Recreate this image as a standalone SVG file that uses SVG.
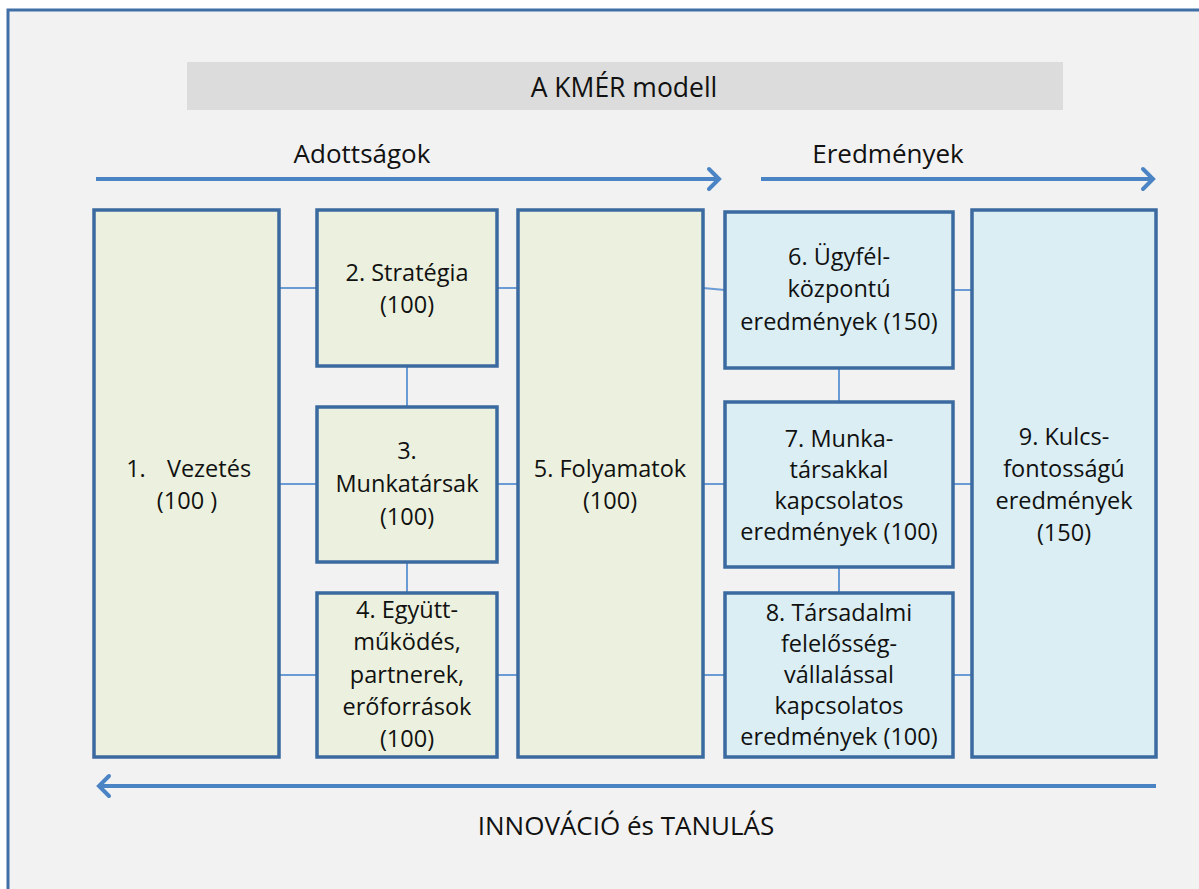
<svg xmlns="http://www.w3.org/2000/svg" width="1199" height="889" viewBox="0 0 1199 889">
<style>
.frame{fill:#f2f2f2;stroke:#3f6fa6;stroke-width:3}
.g{fill:#ebf1de;stroke:#3b6aa0;stroke-width:3.5}
.b{fill:#daeef3;stroke:#3b6aa0;stroke-width:3.5}
.c{stroke:#6a9bd4;stroke-width:2;fill:none}
.arr{stroke:#4a84c4;stroke-width:4;fill:none}
text{font-family:"Open Sans","Liberation Sans",sans-serif;fill:#111111;text-anchor:middle}
.t{font-size:23.5px}
.h{font-size:26px}
</style>
<defs>
<marker id="chev" markerUnits="userSpaceOnUse" markerWidth="20" markerHeight="26" viewBox="-14 -13 20 26" refX="0" refY="0" orient="auto">
<path d="M -10 -10 L 0 0 L -10 10" fill="none" stroke="#4a84c4" stroke-width="4" stroke-linecap="round" stroke-linejoin="miter"/>
</marker>
</defs>
<rect x="0" y="0" width="1199" height="889" fill="#ffffff"/>
<rect class="frame" x="8" y="10" width="1210" height="900"/>
<g id="title">
<rect x="187" y="62" width="876" height="48" fill="#dcdcdc"/>
<text class="h" x="624" y="97" style="font-size:26.5px">A KMÉR modell</text>
</g>
<g id="headers">
<text class="h" x="362" y="163">Adottságok</text>
<text class="h" x="888" y="163">Eredmények</text>
<text class="h" x="626" y="835">INNOVÁCIÓ és TANULÁS</text>
</g>
<g id="arrows">
<line class="arr" x1="96" y1="179" x2="719" y2="179" marker-end="url(#chev)"/>
<line class="arr" x1="761" y1="179" x2="1153" y2="179" marker-end="url(#chev)"/>
<line class="arr" x1="1156" y1="786" x2="99" y2="786" marker-end="url(#chev)"/>
</g>
<g id="connectors">
<line class="c" x1="279" y1="288" x2="317" y2="288"/>
<line class="c" x1="497" y1="288" x2="518" y2="288"/>
<line class="c" x1="279" y1="484" x2="317" y2="484"/>
<line class="c" x1="497" y1="484" x2="518" y2="484"/>
<line class="c" x1="279" y1="675" x2="317" y2="675"/>
<line class="c" x1="497" y1="675" x2="518" y2="675"/>
<line class="c" x1="407" y1="366" x2="407" y2="407"/>
<line class="c" x1="407" y1="562" x2="407" y2="593"/>
<line class="c" x1="703" y1="288" x2="725" y2="290"/>
<line class="c" x1="953" y1="290" x2="972" y2="290"/>
<line class="c" x1="703" y1="484" x2="725" y2="484"/>
<line class="c" x1="953" y1="484" x2="972" y2="484"/>
<line class="c" x1="703" y1="675" x2="725" y2="675"/>
<line class="c" x1="953" y1="675" x2="972" y2="675"/>
<line class="c" x1="839" y1="368" x2="839" y2="402"/>
<line class="c" x1="839" y1="567" x2="839" y2="593"/>
</g>
<g id="node1">
<rect class="g" x="94" y="210" width="185" height="547"/>
<text class="t" x="136" y="477">1.</text>
<text class="t" x="209" y="477">Vezetés</text>
<text class="t" x="187" y="509">(100 )</text>
</g>
<g id="node2">
<rect class="g" x="317" y="210" width="180" height="156"/>
<text class="t" x="407" y="281">2. Stratégia</text>
<text class="t" x="407" y="313">(100)</text>
</g>
<g id="node3">
<rect class="g" x="317" y="407" width="180" height="155"/>
<text class="t" x="407" y="459">3.</text>
<text class="t" x="407" y="492">Munkatársak</text>
<text class="t" x="407" y="525">(100)</text>
</g>
<g id="node4">
<rect class="g" x="317" y="593" width="180" height="164"/>
<text class="t" x="407" y="618">4. Együtt-</text>
<text class="t" x="407" y="650">működés,</text>
<text class="t" x="407" y="683">partnerek,</text>
<text class="t" x="407" y="715">erőforrások</text>
<text class="t" x="407" y="747">(100)</text>
</g>
<g id="node5">
<rect class="g" x="518" y="210" width="185" height="547"/>
<text class="t" x="610" y="477">5. Folyamatok</text>
<text class="t" x="610" y="509">(100)</text>
</g>
<g id="node6">
<rect class="b" x="725" y="212" width="228" height="156"/>
<text class="t" x="839" y="265">6. Ügyfél-</text>
<text class="t" x="839" y="297">központú</text>
<text class="t" x="839" y="330">eredmények (150)</text>
</g>
<g id="node7">
<rect class="b" x="725" y="402" width="228" height="165"/>
<text class="t" x="839" y="447">7. Munka-</text>
<text class="t" x="839" y="478">társakkal</text>
<text class="t" x="839" y="509">kapcsolatos</text>
<text class="t" x="839" y="540">eredmények (100)</text>
</g>
<g id="node8">
<rect class="b" x="725" y="593" width="228" height="164"/>
<text class="t" x="839" y="621">8. Társadalmi</text>
<text class="t" x="839" y="652">felelősség-</text>
<text class="t" x="839" y="683">vállalással</text>
<text class="t" x="839" y="714">kapcsolatos</text>
<text class="t" x="839" y="745">eredmények (100)</text>
</g>
<g id="node9">
<rect class="b" x="972" y="210" width="184" height="547"/>
<text class="t" x="1064" y="445">9. Kulcs-</text>
<text class="t" x="1064" y="477">fontosságú</text>
<text class="t" x="1064" y="509">eredmények</text>
<text class="t" x="1064" y="541">(150)</text>
</g>
</svg>
